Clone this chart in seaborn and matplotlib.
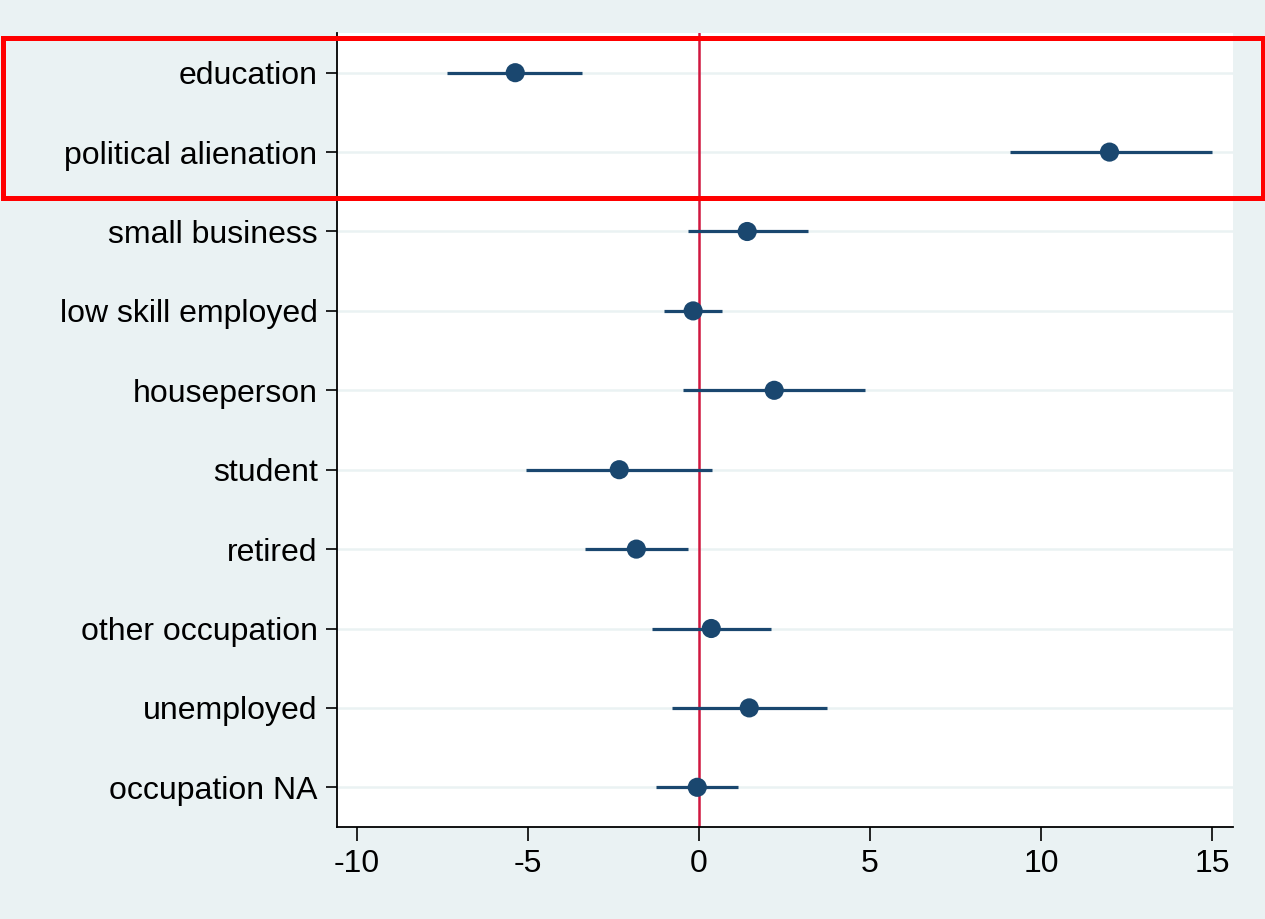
import matplotlib
matplotlib.use("Agg")
import matplotlib.pyplot as plt
from matplotlib.patches import Rectangle
import seaborn as sns
import pandas as pd

labels = ["education", "political alienation", "small business", "low skill employed",
          "houseperson", "student", "retired", "other occupation", "unemployed", "occupation NA"]
estimates = [-5.37, 12.0, 1.41, -0.17, 2.2, -2.33, -1.83, 0.36, 1.47, -0.05]
ci_low = [-7.36, 9.08, -0.31, -1.01, -0.46, -5.05, -3.32, -1.37, -0.78, -1.25]
ci_high = [-3.41, 15.01, 3.2, 0.68, 4.86, 0.39, -0.31, 2.11, 3.75, 1.15]
xticks = [-10, -5, 0, 5, 10, 15]

df = pd.DataFrame({"label": labels, "est": estimates, "lo": ci_low, "hi": ci_high})
df["pos"] = range(1, len(df) + 1)

sns.set_theme(style="white")
plt.rcParams["font.family"] = ["Liberation Sans", "DejaVu Sans"]

BG = "#EAF2F3"
NAVY = "#1A476F"

fig = plt.figure(figsize=(12.65, 9.19), dpi=100, facecolor=BG)
ax = fig.add_axes([337/1265, 92/919, (1233-337)/1265, (827-33)/919])
ax.set_facecolor("white")

# grid lines
for p in df["pos"]:
    ax.axhline(p, color=BG, lw=1.8, zorder=0)

# reference line at 0
ax.axvline(0, color="#D0173F", lw=1.8, zorder=1)

# confidence intervals
ax.hlines(df["pos"], df["lo"], df["hi"], color=NAVY, lw=2.3, zorder=2)
sns.scatterplot(data=df, x="est", y="pos", ax=ax, color=NAVY, s=190,
                edgecolor="none", zorder=3, legend=False)

ax.set_ylim(10.5, 0.5)
ax.set_xlim(-10.58, 15.61)
ax.set_yticks(df["pos"])
ax.set_yticklabels(df["label"])
ax.set_xticks(xticks)
ax.set_xticklabels([str(t) for t in xticks])
ax.set_xlabel("")
ax.set_ylabel("")

for s in ["top", "right"]:
    ax.spines[s].set_visible(False)
for s in ["left", "bottom"]:
    ax.spines[s].set_color("black")
    ax.spines[s].set_linewidth(1.3)

ax.tick_params(axis="y", which="major", length=8, width=1.2, color="black",
               pad=6, labelsize=23, labelcolor="black", left=True)
ax.tick_params(axis="x", which="major", length=10, width=1.2, color="black",
               pad=5.5, labelsize=23, labelcolor="black", bottom=True)

# highlight rectangle (figure coordinates)
rect = Rectangle((2.5/1265, (919-197.5)/919), (1262.5-2.5)/1265, 160/919,
                 transform=fig.transFigure, fill=False, edgecolor="#FF0000",
                 lw=3.6, clip_on=False, zorder=10)
fig.patches.append(rect)

fig.savefig("out.png", dpi=100, facecolor=BG)
